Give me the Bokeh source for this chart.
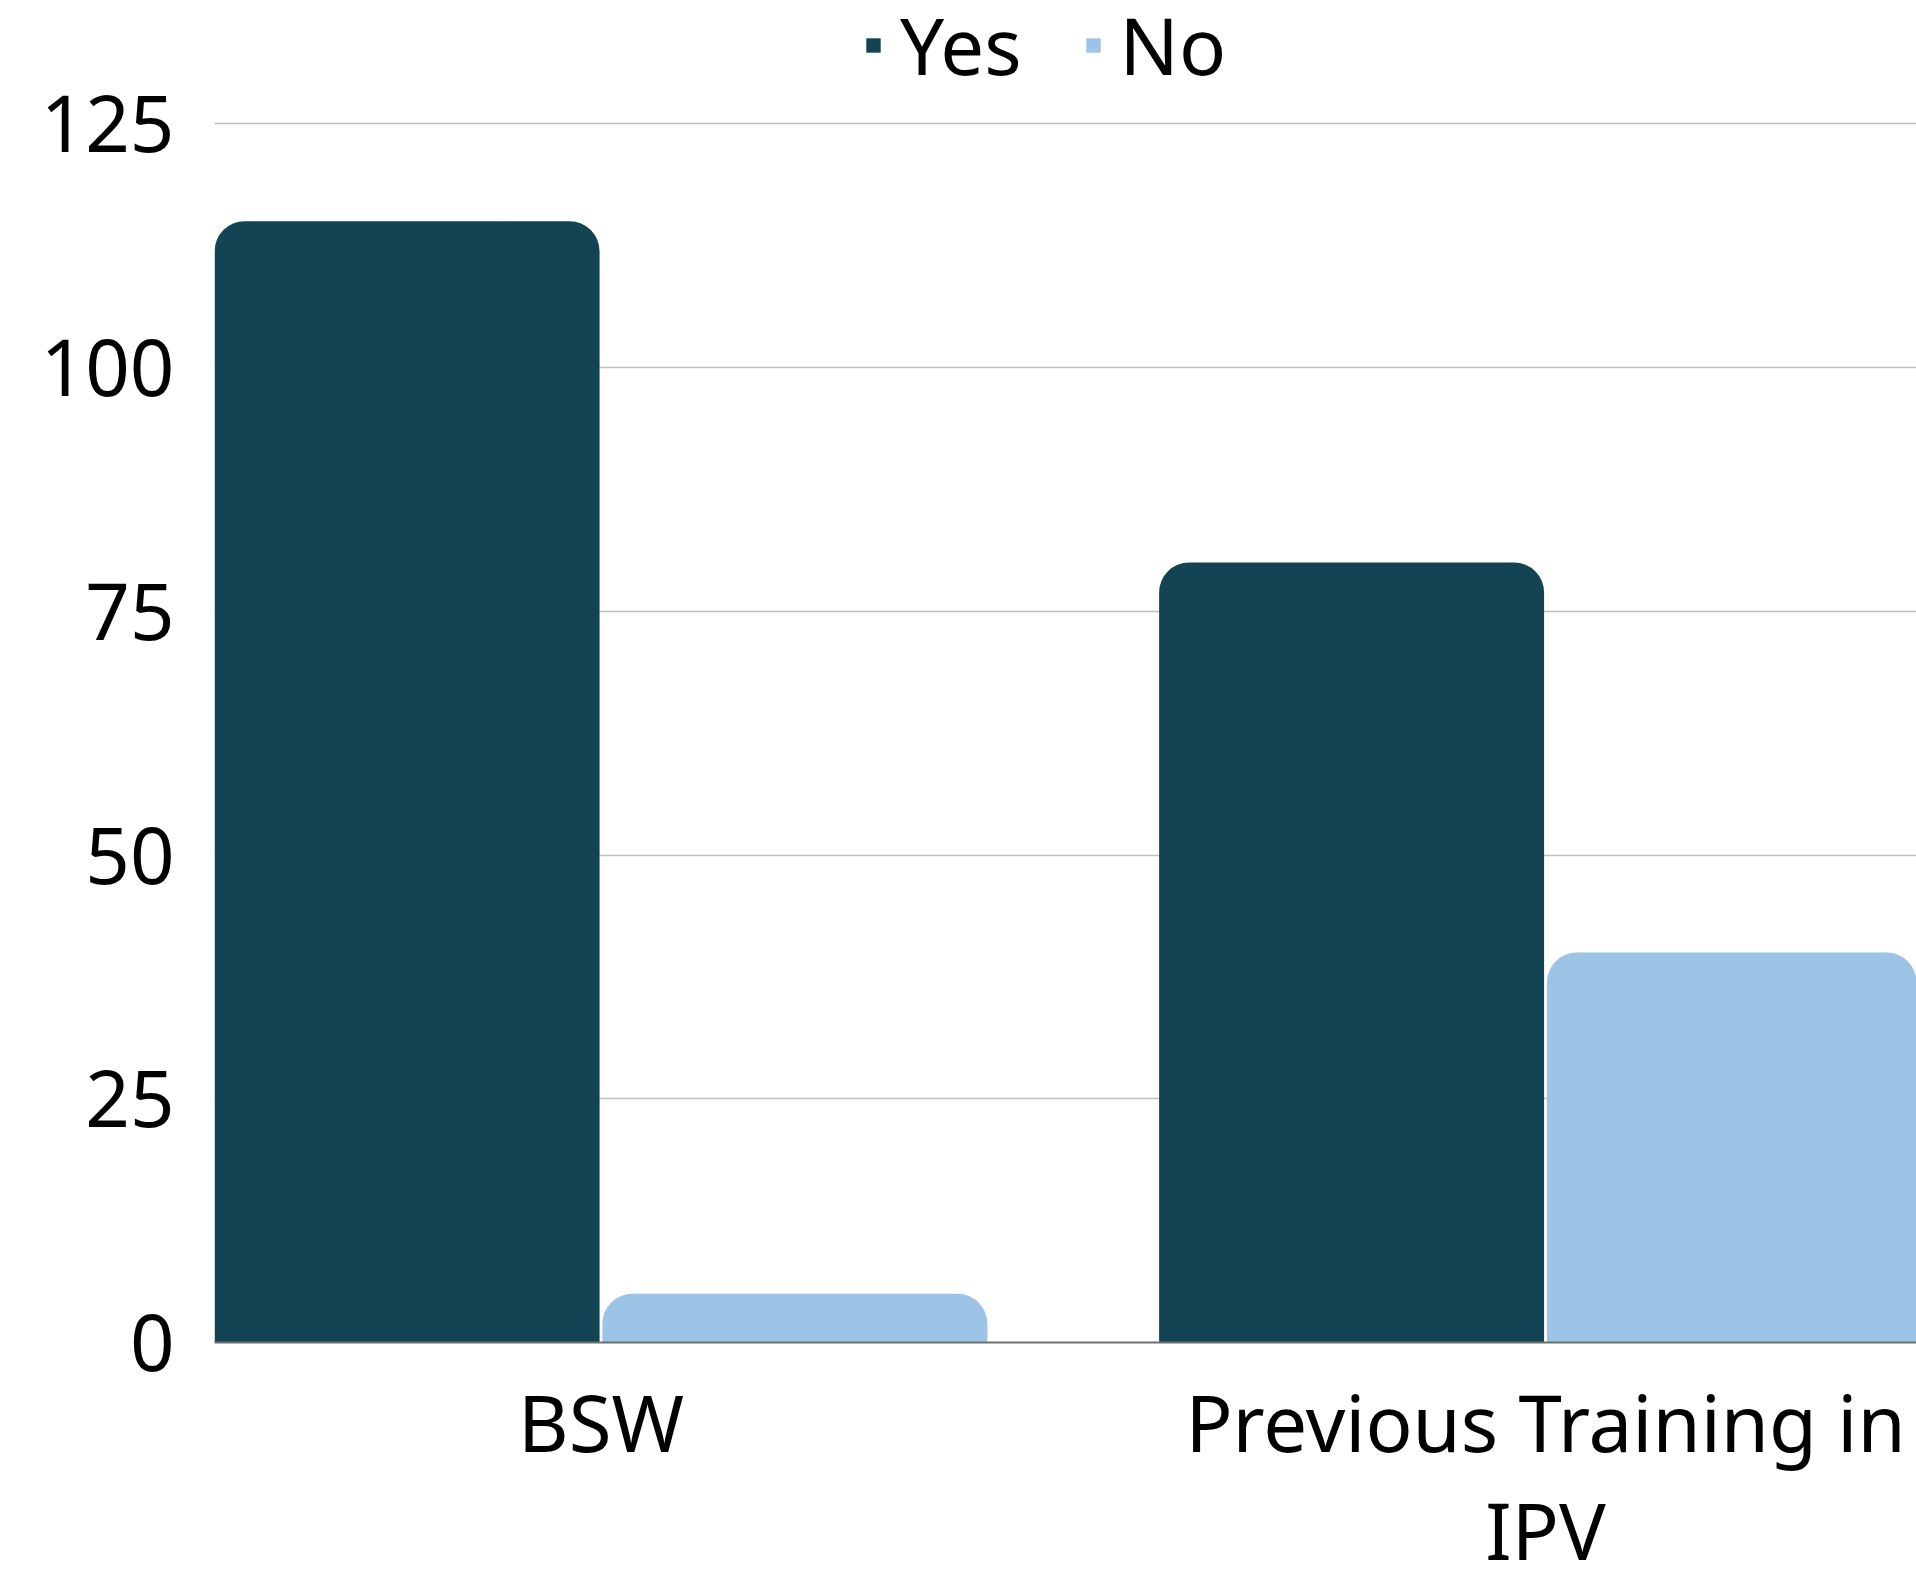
from bokeh.plotting import figure
from bokeh.models import FixedTicker, Legend, LegendItem, ColumnDataSource, Range1d
from bokeh.embed import file_html
from bokeh.resources import INLINE
from bokeh.transform import dodge

categories = ["BSW", "Previous Training in IPV"]
category_labels = ["BSW", "Previous Training in\nIPV"]
yes_values = [115, 80]
no_values = [5, 40]
y_ticks = [0, 25, 50, 75, 100, 125]

YES_COLOR = "#134454"
NO_COLOR = "#9DC3E6"
FONT = "Noto Sans"
FS = "78px"

xpos = list(range(len(categories)))
src = ColumnDataSource(dict(x=xpos, yes=yes_values, no=no_values))

# frame reaches the top of the canvas so the legend sits inside it, above the 125 line
p = figure(frame_width=1702, frame_height=1342, output_backend="svg", toolbar_location=None,
           x_range=Range1d(-0.4092, 1.3928), y_range=Range1d(0, 137.65),
           min_border_left=214, min_border_right=0, min_border_top=0, min_border_bottom=0)
p.outline_line_color = None
p.background_fill_color = "white"
p.border_fill_color = "white"

r_yes = p.vbar(x=dodge("x", -0.2053), top="yes", width=0.4076, source=src,
               fill_color=YES_COLOR, line_color=None, border_radius=(30, 30, 0, 0))
r_no = p.vbar(x=dodge("x", 0.2053), top="no", width=0.4076, source=src,
              fill_color=NO_COLOR, line_color=None, border_radius=(30, 30, 0, 0))

# y axis
p.yaxis.ticker = FixedTicker(ticks=y_ticks)
p.yaxis.axis_line_color = None
p.yaxis.major_tick_line_color = None
p.yaxis.minor_tick_line_color = None
p.yaxis.major_label_text_font = FONT
p.yaxis.major_label_text_font_size = FS
p.yaxis.major_label_text_color = "black"
p.yaxis.major_label_standoff = 34

p.ygrid.ticker = FixedTicker(ticks=y_ticks)
p.ygrid.grid_line_color = "#BFBFBF"
p.ygrid.grid_line_width = 1.5
p.xgrid.grid_line_color = None

# x axis: one label per category
p.xaxis.ticker = FixedTicker(ticks=xpos)
p.xaxis.major_label_overrides = {xpos[i]: category_labels[i] for i in range(len(categories))}
p.xaxis.axis_line_color = "#6E6E6E"
p.xaxis.axis_line_width = 2
p.xaxis.major_tick_line_color = None
p.xaxis.minor_tick_line_color = None
p.xaxis.major_label_text_font = FONT
p.xaxis.major_label_text_font_size = FS
p.xaxis.major_label_text_color = "black"
p.xaxis.major_label_text_line_height = 1.02
p.xaxis.major_label_standoff = 20

legend = Legend(items=[LegendItem(label="Yes", renderers=[r_yes]),
                       LegendItem(label="No", renderers=[r_no])],
                orientation="horizontal", location=(650, 1244),
                label_text_font=FONT, label_text_font_size=FS, label_text_color="black",
                glyph_width=18, glyph_height=18, label_standoff=18, spacing=62,
                padding=0, margin=0, border_line_color=None,
                background_fill_alpha=0)
p.add_layout(legend, "center")

open("out.html", "w").write(file_html(p, INLINE))
